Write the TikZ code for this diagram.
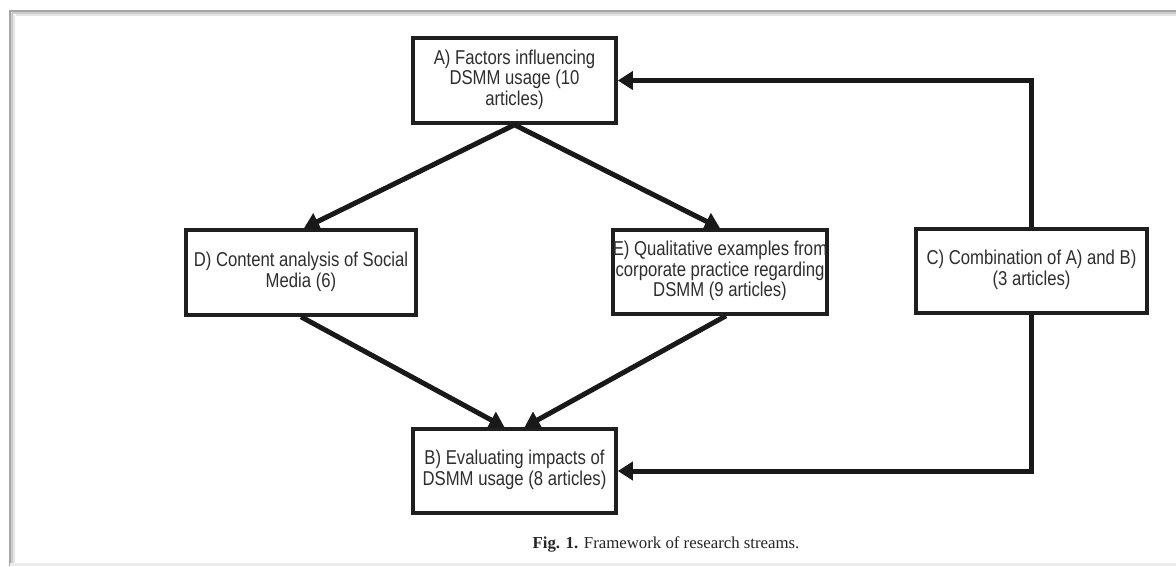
\documentclass[tikz,border=0pt]{standalone}
\usepackage{fontspec}
\usepackage{graphicx}
\setmainfont{Liberation Serif}
\setsansfont{Liberation Sans}
\usetikzlibrary{arrows.meta}
\newcommand{\vtxt}[1]{\scalebox{1}[1.2]{\begin{tabular}{@{}c@{}}#1\end{tabular}}}
\begin{document}
\begin{tikzpicture}[x=1pt,y=-1pt,
  box/.style={draw=black!88, line width=3.6pt, fill=white, align=center,
    font=\sffamily\fontsize{16.7}{17.1}\selectfont, text=black!82,
    inner sep=0pt},
  conn/.style={line width=5pt, draw=black!90,
    -{Triangle[length=15pt,width=18pt]}},
  caption/.style={font=\fontsize{16.8}{20}\selectfont, text=black!85}
]
\useasboundingbox (0,0) rectangle (1176,566);
\fill[white] (0,0) rectangle (1176,566);
% page edge with shadow
\draw[gray!20, line width=2pt] (16,15) -- (1176,15);
\draw[gray!20, line width=2pt] (14,15) -- (14,566);
\draw[gray!40, line width=2pt] (12,13) -- (1176,13);
\draw[gray!40, line width=2pt] (12,13) -- (12,566);
\draw[gray!70, line width=2pt] (10,11) -- (1176,11);
\draw[gray!70, line width=2pt] (10,10) -- (10,566);
\draw[gray!15, line width=3pt] (10,564.5) -- (1176,564.5);

% boxes
\node[box, minimum width=203pt, minimum height=85pt] (A) at (514.5,80.5)
  {\vtxt{A) Factors influencing\\DSMM usage (10\\articles)}};
\node[box, minimum width=230pt, minimum height=85pt] (D) at (301,272.5)
  {\vtxt{D) Content analysis of Social\\Media (6)}};
\node[box, minimum width=213pt, minimum height=84pt] (E) at (720,272)
  {\vtxt{E) Qualitative examples from\\corporate practice regarding\\DSMM (9 articles)}};
\node[box, minimum width=231pt, minimum height=84pt] (C) at (1031.5,271)
  {\vtxt{C) Combination of A) and B)\\(3 articles)}};
\node[box, minimum width=203pt, minimum height=84pt] (B) at (514.5,471)
  {\vtxt{B) Evaluating impacts of\\DSMM usage (8 articles)}};

% connectors
\draw[conn] (A.south) -- ([xshift=3pt]D.north);
\draw[conn] (A.south) -- (E.north);
\draw[conn] (D.south) -- ([xshift=-10pt]B.north);
\draw[conn] ([xshift=6pt]E.south) -- ([xshift=10pt]B.north);
\draw[conn] (C.north) |- (A.east);
\draw[conn] (C.south) |- (B.east);

% caption
\node[caption] (cap) at (666,544) {\textbf{Fig. 1.} Framework of research streams.};
\end{tikzpicture}
\end{document}
